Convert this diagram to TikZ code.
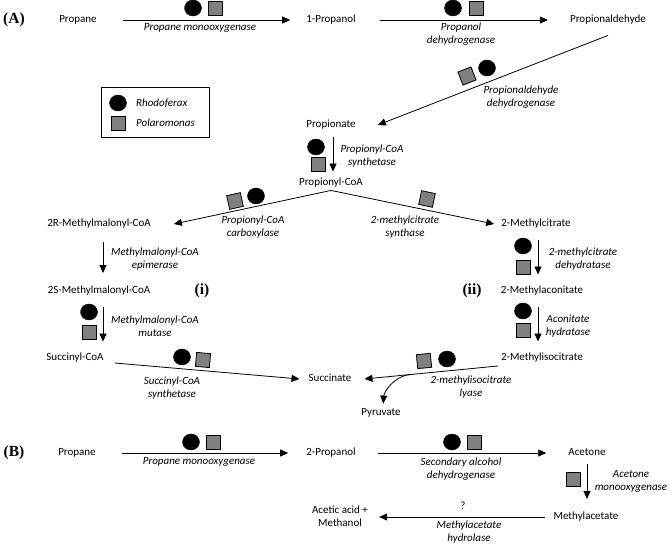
\documentclass[tikz,border=0pt]{standalone}
\usepackage{fontspec}
\setmainfont{Carlito}
\newfontfamily\labfont{Liberation Serif}
\usetikzlibrary{arrows.meta,shapes.geometric,calc}
\definecolor{sqgray}{RGB}{128,128,128}
\begin{document}
\begin{tikzpicture}[x=1pt,y=-1pt,
 chem/.style={font=\fontsize{11}{13}\selectfont, inner sep=0pt, text height=8pt, text depth=2.5pt},
 chemml/.style={font=\fontsize{11}{13}\selectfont, inner sep=0pt, align=center},
 enz/.style={font=\fontsize{11}{13}\selectfont\itshape, inner sep=0pt, align=center},
 rho/.style={ellipse, fill=black, draw=black, minimum width=17pt, minimum height=16pt, inner sep=0pt},
 pol/.style={rectangle, fill=sqgray, draw=black, line width=0.8pt, minimum size=14pt, inner sep=0pt},
 arr/.style={-{Triangle[length=8pt,width=7pt]}, line width=0.8pt},
 plab/.style={font=\labfont\bfseries\fontsize{15.5}{18}\selectfont, inner sep=0pt}
]
\useasboundingbox (0,0) rectangle (670,545);

% ---------- (A) ----------
\node[plab] (labA) at (14,20) {(A)};
\node[chem] (pa) at (78,20) {Propane};
\node[chem] (pol1) at (331,20) {1-Propanol};
\node[chem] (pald) at (608,20) {Propionaldehyde};
\node[chem] (pnate) at (331,125) {Propionate};
\node[chem] (pcoa) at (331,183) {Propionyl-CoA};
\node[chem] (mm2r) at (99,224) {2R-Methylmalonyl-CoA};
\node[chem] (mcit) at (536,224) {2-Methylcitrate};
\node[chem] (mm2s) at (99,291) {2S-Methylmalonyl-CoA};
\node[plab] (labi) at (202,291) {(i)};
\node[plab] (labii) at (472,291) {(ii)};
\node[chem] (macon) at (542,291) {2-Methylaconitate};
\node[chem] (scoa) at (75,358) {Succinyl-CoA};
\node[chem] (misoc) at (542,358) {2-Methylisocitrate};
\node[chem] (succ) at (330,379) {Succinate};
\node[chem] (pyr) at (381,413) {Pyruvate};

% legend
\node[draw, line width=0.8pt, minimum width=108pt, minimum height=50pt, inner sep=0pt] (legend) at (155,112) {};
\node[rho] (legr) at (118,103) {};
\node[pol] (legp) at (118,123) {};
\node[enz, anchor=west] (legrt) at (136,103) {Rhodoferax};
\node[enz, anchor=west] (legpt) at (136,123) {Polaromonas};

% arrows (A)
\draw[arr, shorten <=26pt, shorten >=16pt] (pa.east) -- (pol1.west);
\draw[arr, shorten <=24pt, shorten >=22pt] (pol1.east) -- (pald.west);
\draw[arr] ([yshift=-10pt]pald.south) -- ([xshift=22pt]pnate.east);
\draw[arr, shorten <=7pt, shorten >=6pt] ([xshift=2pt]pnate.south) -- ([xshift=2pt]pcoa.north);
\draw[arr] ([yshift=-2pt]pcoa.south) -- ([xshift=23pt]mm2r.east);
\draw[arr] ([yshift=-2pt]pcoa.south) -- ([xshift=-7pt]mcit.west);
\draw[arr, shorten <=13pt, shorten >=12.5pt] ([xshift=4pt]mm2r.south) -- ([xshift=4pt]mm2s.north);
\draw[arr, shorten <=11pt, shorten >=11pt] ([xshift=4pt]mm2s.south) -- ([xshift=4pt]mm2s.south |- scoa.north);
\draw[arr] ([xshift=11pt,yshift=-5pt]scoa.east) -- ([xshift=-9pt]succ.west);
\draw[arr, shorten <=11pt, shorten >=11pt] ([xshift=2pt]mcit.south) -- ([xshift=2pt]mcit.south |- macon.north);
\draw[arr, shorten <=11pt, shorten >=11pt] ([xshift=-4pt]macon.south) -- ([xshift=-4pt]macon.south |- misoc.north);
\draw[arr] ([xshift=-3pt,yshift=-8pt]misoc.west) -- coordinate[pos=0.66] (br) ([xshift=13pt]succ.east);
\draw[arr, shorten >=4pt] (br) .. controls +(-17,2) and +(1,-15) .. ([xshift=2pt]pyr.north);

% enzyme labels (A)
\node[enz] (e1) at (200,28) {Propane monooxygenase};
\node[enz] (e2) at (461,34) {Propanol\\dehydrogenase};
\node[enz] (e3) at (521,97.5) {Propionaldehyde\\dehydrogenase};
\node[enz] (e4) at (372,156.5) {Propionyl-CoA\\synthetase};
\node[enz] (e5) at (253,227.5) {Propionyl-CoA\\carboxylase};
\node[enz] (e6) at (405,227.5) {2-methylcitrate\\synthase};
\node[enz] (e7) at (583,259) {2-methylcitrate\\dehydratase};
\node[enz] (e8) at (155,259) {Methylmalonyl-CoA\\epimerase};
\node[enz] (e9) at (155,326) {Methylmalonyl-CoA\\mutase};
\node[enz] (e10) at (568,326) {Aconitate\\hydratase};
\node[enz] (e11) at (172,388) {Succinyl-CoA\\synthetase};
\node[enz] (e12) at (471,387.5) {2-methylisocitrate\\lyase};

% organism symbols (A)
\node[rho] (r1) at (193,8) {};
\node[pol] (s1) at (215,8.5) {};
\node[rho] (r2) at (453,8) {};
\node[pol] (s2) at (476,8.5) {};
\node[pol, rotate=21.5] (s3) at (467,76) {};
\node[rho] (r3) at (487,68) {};
\node[rho] (r4) at (316,147) {};
\node[pol] (s4) at (318,164) {};
\node[pol, rotate=12.6] (s5) at (235,201) {};
\node[rho] (r5) at (256,196) {};
\node[pol, rotate=-11.9] (s6) at (427,199) {};
\node[rho] (r7) at (523,246) {};
\node[pol] (s7) at (523,267) {};
\node[rho] (r9) at (89,312) {};
\node[pol] (s9) at (89,332) {};
\node[rho] (r10) at (523,311) {};
\node[pol] (s10) at (523,330) {};
\node[rho] (r11) at (182,357) {};
\node[pol, rotate=-5] (s11) at (203,360) {};
\node[pol, rotate=5.6] (s12) at (424,361) {};
\node[rho] (r12) at (447,359) {};

% ---------- (B) ----------
\node[plab] (labB) at (14,453) {(B)};
\node[chem] (pb) at (77,453) {Propane};
\node[chem] (p2ol) at (331,453) {2-Propanol};
\node[chem] (ace) at (587,453) {Acetone};
\node[chem] (mac) at (586,517) {Methylacetate};
\node[chemml] (aa) at (340,516.5) {Acetic acid +\\Methanol};

\draw[arr, shorten <=26pt, shorten >=18pt] (pb.east) -- (p2ol.west);
\draw[arr, shorten <=22pt, shorten >=22pt] (p2ol.east) -- (ace.west);
\draw[arr, shorten <=6pt, shorten >=12.5pt] (ace.south) -- (ace.south |- mac.north);
\draw[arr, shorten <=8pt, shorten >=11pt] (mac.west) -- (mac.west -| aa.east);

\node[enz] (f1) at (199,462) {Propane monooxygenase};
\node[enz] (f2) at (461,469) {Secondary alcohol\\dehydrogenase};
\node[enz] (f3) at (631,481) {Acetone\\monooxygenase};
\node[chem] (f4) at (463,507) {?};
\node[enz] (f5) at (469,532.5) {Methylacetate\\hydrolase};

\node[rho] (rb1) at (191,442) {};
\node[pol] (sb1) at (213,442) {};
\node[rho] (rb2) at (452,442) {};
\node[pol] (sb2) at (474,442) {};
\node[pol] (sb3) at (573,479) {};
\end{tikzpicture}
\end{document}
